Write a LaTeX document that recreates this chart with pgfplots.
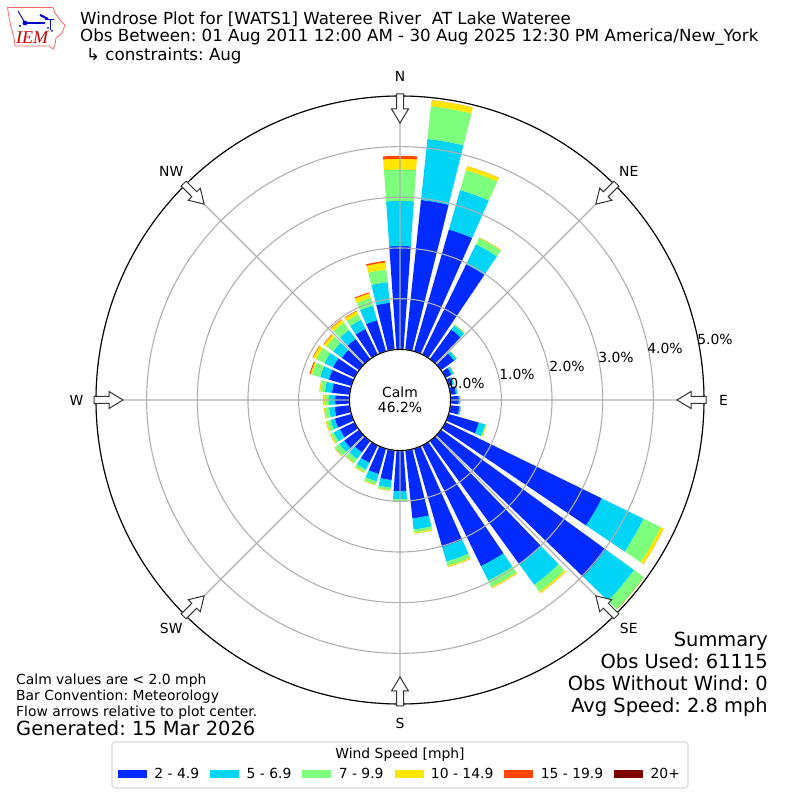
\documentclass[border=0pt]{standalone}
\usepackage{fontspec}
\setmainfont{DejaVu Sans}
\newfontfamily\logofont{Liberation Serif}
\usepackage{pgfplots}
\pgfplotsset{compat=1.18}
\usepgfplotslibrary{polar}
\frenchspacing
\definecolor{cA}{RGB}{0,42,255}
\definecolor{cB}{RGB}{0,212,247}
\definecolor{cC}{RGB}{125,255,125}
\definecolor{cD}{RGB}{255,230,0}
\definecolor{cE}{RGB}{255,70,0}
\definecolor{cF}{RGB}{127,0,0}
\definecolor{gridc}{RGB}{176,176,176}
\newcommand{\fs}[1]{\fontsize{#1}{#1}\selectfont}
% one wedge of a bar: direction (deg clockwise from N), cumulative start and end in %, colour
\newcommand{\seg}[4]{%
  \pgfmathsetmacro\ta{90-#1-4}\pgfmathsetmacro\tb{90-#1-2}\pgfmathsetmacro\tc{90-#1}%
  \pgfmathsetmacro\td{90-#1+2}\pgfmathsetmacro\te{90-#1+4}%
  \pgfmathsetmacro\ra{#2+1}\pgfmathsetmacro\rb{#3+1}%
  \edef\tmp{\noexpand\addplot[draw=none,fill=#4,forget plot] coordinates {(\ta,\ra)(\tb,\ra)(\tc,\ra)(\td,\ra)(\te,\ra)(\te,\rb)(\td,\rb)(\tc,\rb)(\tb,\rb)(\ta,\rb)} -- cycle;}\tmp}
% direction, then cumulative percent after each speed class
\newcommand{\rosebar}[6]{\seg{#1}{0}{#2}{cA}\seg{#1}{#2}{#3}{cB}\seg{#1}{#3}{#4}{cC}\seg{#1}{#4}{#5}{cD}\seg{#1}{#5}{#6}{cE}}
\begin{document}
\frenchspacing
\begin{tikzpicture}[x=1pt,y=1pt,font=\fs{13.89}]
\path[use as bounding box] (0,0) rectangle (800,800);
\begin{polaraxis}[
  at={(400pt,400pt)},anchor=center,
  scale only axis,width=608pt,height=608pt,
  ymin=0,ymax=6,
  xtick={0,45,90,135,180,225,270,315},
  xticklabels={E,NE,N,NW,W,SW,S,SE},
  ytick={1,2,3,4,5,6},yticklabels={},
  xmajorgrids,ymajorgrids,
  grid style={gridc,line width=1.1pt},
  major tick length=0pt,
  x axis line style={black,line width=1.1pt},
  y axis line style={draw=none},
  axis on top,
  xticklabel style={anchor=center,inner sep=0pt,xshift={19.5*cos(\tick)},yshift={19.5*sin(\tick)}},
  legend columns=6,
  legend cell align=left,
  legend style={at={(axis description cs:0.5,-0.115)},anchor=center,draw=none,fill=none,
    font=\fs{13.89},
    /tikz/every even column/.append style={column sep=9pt},
    /tikz/every odd column/.append style={column sep=6pt}},
  legend image code/.code={\fill[#1] (0pt,-3.5pt) rectangle (28pt,3.5pt);},
]
\addlegendimage{cA}\addlegendentry{2 - 4.9}
\addlegendimage{cB}\addlegendentry{5 - 6.9}
\addlegendimage{cC}\addlegendentry{7 - 9.9}
\addlegendimage{cD}\addlegendentry{10 - 14.9}
\addlegendimage{cE}\addlegendentry{15 - 19.9}
\addlegendimage{cF}\addlegendentry{20+}
\rosebar{0}{2.04}{2.93}{3.55}{3.76}{3.82}
\rosebar{10}{2.97}{4.18}{4.83}{4.95}{4.95}
\rosebar{20}{2.50}{3.31}{3.72}{3.80}{3.80}
\rosebar{30}{1.98}{2.42}{2.56}{2.57}{2.57}
\rosebar{40}{0.72}{0.82}{0.84}{0.84}{0.84}
\rosebar{50}{0.32}{0.38}{0.39}{0.39}{0.39}
\rosebar{60}{0.13}{0.18}{0.18}{0.18}{0.18}
\rosebar{70}{0.08}{0.11}{0.11}{0.11}{0.11}
\rosebar{80}{0.11}{0.14}{0.14}{0.14}{0.14}
\rosebar{90}{0.16}{0.19}{0.19}{0.19}{0.19}
\rosebar{100}{0.18}{0.21}{0.21}{0.21}{0.21}
\rosebar{110}{0.62}{0.75}{0.77}{0.78}{0.78}
\rosebar{120}{3.43}{4.35}{4.73}{4.79}{4.79}
\rosebar{130}{4.02}{4.71}{4.95}{4.95}{4.95}
\rosebar{140}{3.01}{3.51}{3.68}{3.71}{3.71}
\rosebar{150}{2.65}{2.97}{3.11}{3.13}{3.13}
\rosebar{160}{2.02}{2.32}{2.41}{2.43}{2.43}
\rosebar{170}{1.35}{1.57}{1.63}{1.65}{1.65}
\rosebar{180}{0.80}{0.96}{1.00}{1.01}{1.01}
\rosebar{190}{0.59}{0.74}{0.79}{0.80}{0.80}
\rosebar{200}{0.52}{0.67}{0.74}{0.75}{0.75}
\rosebar{210}{0.38}{0.53}{0.59}{0.60}{0.60}
\rosebar{220}{0.28}{0.44}{0.54}{0.55}{0.55}
\rosebar{230}{0.36}{0.48}{0.59}{0.60}{0.60}
\rosebar{240}{0.32}{0.46}{0.52}{0.54}{0.54}
\rosebar{250}{0.34}{0.43}{0.51}{0.53}{0.53}
\rosebar{260}{0.30}{0.41}{0.49}{0.51}{0.51}
\rosebar{270}{0.28}{0.40}{0.48}{0.52}{0.52}
\rosebar{280}{0.35}{0.49}{0.58}{0.60}{0.60}
\rosebar{290}{0.46}{0.64}{0.81}{0.84}{0.86}
\rosebar{300}{0.47}{0.66}{0.84}{0.91}{0.92}
\rosebar{310}{0.42}{0.63}{0.80}{0.86}{0.87}
\rosebar{320}{0.49}{0.71}{0.89}{0.96}{0.97}
\rosebar{330}{0.56}{0.76}{0.88}{0.95}{0.96}
\rosebar{340}{0.64}{0.94}{1.10}{1.19}{1.21}
\rosebar{350}{0.93}{1.34}{1.59}{1.73}{1.76}
\end{polaraxis}
% hub
\draw[black,fill=white,line width=1.1pt] (400,400) circle (50.6);
\node[align=center,inner sep=0pt,font=\fs{13.89}] at (400,400) {Calm\\[1pt]46.2\%};
% radial labels
\foreach \x/\y/\t in {467/417/0.0,517/426/1.0,567/434/2.0,616/443/3.0,665/452/4.0,715/461/5.0}
  \node[inner sep=0pt] at (\x,\y) {\t\%};
% compass arrows
\foreach \a in {0,45,...,315}
  \draw[rotate around={-\a:(400,400)},fill=white,draw=black!80,line width=1pt,line join=miter]
    (396.5,706)--(403.5,706)--(403.5,691)--(408.5,691)--(400,677)--(391.5,691)--(396.5,691)--cycle;
% title
\node[anchor=base west,inner sep=0pt,font=\fs{16.67}] at (80,775) {Windrose Plot for [WATS1] Wateree River\ \ AT Lake Wateree};
\node[anchor=base west,inner sep=0pt,font=\fs{16.67}] at (80,758) {Obs Between: 01 Aug 2011 12:00 AM - 30 Aug 2025 12:30 PM America/New\_York};
\node[anchor=base west,inner sep=0pt,font=\fs{16.67}] at (86,739) {↳ constraints: Aug};
% summary
\foreach \y/\t in {153/Summary,131/Obs Used: 61115,109/Obs Without Wind: 0,87/Avg Speed: 2.8 mph}
  \node[anchor=base east,inner sep=0pt,font=\fs{19.44}] at (768,\y) {\t};
% footer
\foreach \y/\t in {115/Calm values are < 2.0 mph,99/Bar Convention: Meteorology,83/Flow arrows relative to plot center.}
  \node[anchor=base west,inner sep=0pt,font=\fs{13.89}] at (16,\y) {\t};
\node[anchor=base west,inner sep=0pt,font=\fs{19.44}] at (16,64) {Generated: 15 Mar 2026};
% legend box and title
\draw[rounded corners=3pt,draw=black!15,line width=1.1pt] (112,58) rectangle (688,12);
\node[inner sep=0pt,font=\fs{13.89}] at (400,45) {Wind Speed [mph]};
% logo
\draw[red!60!white,line width=0.8pt,line join=round] (7.5,792.5)--(53,792.5)--(55,787)--(60,780)--(65,775)--(62,767)--(56,762)--(55,755)--(53,751)--(49,754)--(15,754)--(14,762)--(11,773)--(9,783)--cycle;
\draw[blue!80!black,line width=1.6pt] (25,777)--(45,777);
\fill[blue!80!black] (25,777) circle (2.4);
\draw[blue!80!black,line width=0.9pt] (18,789)--(25,777);
\draw[blue!80!black,line width=2pt] (40,785)--(48,781);
\draw[blue!80!black,line width=0.9pt] (45,781)--(54,781) (50,781)--(50,770);
\fill[blue!80!black] (20,774) circle (1.2) (48,772) circle (1) (52,769) circle (1);
\node[anchor=base west,inner sep=0pt,text=red!80!black,font=\logofont\itshape\fs{18}] at (16,756) {IEM};
\end{tikzpicture}
\end{document}
